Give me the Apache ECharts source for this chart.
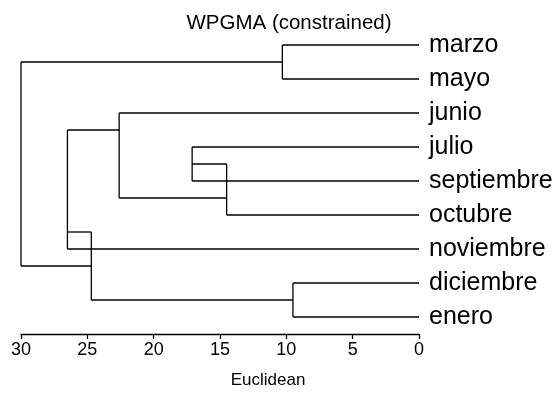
<!DOCTYPE html>
<html>
<head>
<meta charset="utf-8">
<script src="https://cdn.jsdelivr.net/npm/echarts@6/dist/echarts.min.js"></script>
<style>html,body{margin:0;padding:0;background:#fff}#c{width:557px;height:394px}</style>
</head>
<body>
<div id="c"></div>
<script>
// Leaves, top to bottom
const leaves = ['marzo','mayo','junio','julio','septiembre','octubre','noviembre','diciembre','enero'];
// hclust-style merges: negative = leaf (1-based), positive = earlier merge (1-based)
const mergeLeft  = [-1, -4, 2, -3, 4, -8, 5, 1];
const mergeRight = [-2, -5, -6, 3, -7, -9, 6, 7];
const mergeHeights = [10.3, 17.1, 14.5, 22.6, 26.5, 9.5, 24.7, 30];
const xTicks = [0, 5, 10, 15, 20, 25, 30];

// compute node positions (constrained: node sits on boundary between its two groups)
const nodeInfo = [];
function info(ref) {
  if (ref < 0) { const i = -ref - 1; return {h: 0, y: i, minLeaf: i, maxLeaf: i}; }
  return nodeInfo[ref - 1];
}
const segs = [];
for (let k = 0; k < mergeHeights.length; k++) {
  const a = info(mergeLeft[k]), b = info(mergeRight[k]), h = mergeHeights[k];
  segs.push([h, a.y, h, b.y]);
  segs.push([a.h, a.y, h, a.y]);
  segs.push([b.h, b.y, h, b.y]);
  nodeInfo.push({h: h, y: a.maxLeaf + 0.5, minLeaf: Math.min(a.minLeaf, b.minLeaf), maxLeaf: Math.max(a.maxLeaf, b.maxLeaf)});
}

const chart = echarts.init(document.getElementById('c'));
chart.setOption({
  animation: false,
  title: [
    {text: 'WPGMA (constrained)', left: 284, top: 8, textAlign: 'center',
     textStyle: {fontFamily: 'Liberation Sans', fontSize: 20.5, fontWeight: 'normal', color: '#000'}},
    {text: 'Euclidean', left: 268, top: 372, textAlign: 'center', padding: 0,
     textStyle: {fontFamily: 'Liberation Sans', fontSize: 17, fontWeight: 'normal', color: '#000'}}
  ],
  grid: {left: 21, right: 138, top: 28, bottom: 60},
  xAxis: {
    type: 'value', inverse: true, min: 0, max: 30, interval: 5, position: 'bottom',
    axisLine: {show: true, onZero: false, lineStyle: {color: '#000', width: 1.3}},
    axisTick: {show: true, length: 5, lineStyle: {color: '#000', width: 1.3}},
    axisLabel: {color: '#000', fontFamily: 'Liberation Sans', fontSize: 18, margin: 7,
      formatter: v => xTicks.indexOf(v) >= 0 ? String(v) : ''},
    splitLine: {show: false}
  },
  yAxis: [
    {type: 'value', min: -0.5, max: 8.5, inverse: true, show: false},
    {type: 'category', data: leaves, inverse: true, position: 'right', boundaryGap: true,
     axisLine: {show: false}, axisTick: {show: false}, splitLine: {show: false},
     axisLabel: {color: '#000', fontFamily: 'Liberation Sans', fontSize: 25, margin: 10}}
  ],
  series: [{
    type: 'custom',
    yAxisIndex: 0,
    data: segs,
    renderItem: function (params, api) {
      const p1 = api.coord([api.value(0), api.value(1)]);
      const p2 = api.coord([api.value(2), api.value(3)]);
      return {type: 'line', shape: {x1: p1[0], y1: p1[1], x2: p2[0], y2: p2[1]},
              style: {stroke: '#000', lineWidth: 1.3}};
    },
    clip: false
  }]
});
</script>
</body>
</html>
